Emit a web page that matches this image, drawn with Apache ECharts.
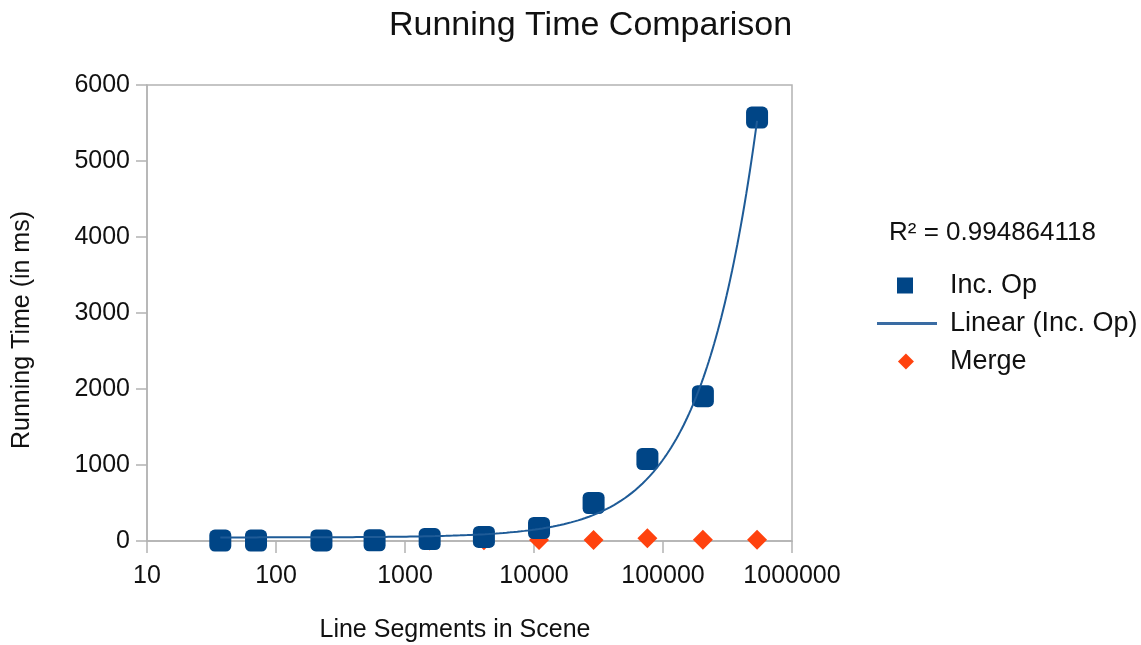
<!DOCTYPE html>
<html>
<head>
<meta charset="utf-8">
<script src="https://cdn.jsdelivr.net/npm/echarts@6/dist/echarts.min.js"></script>
<style>
html,body{margin:0;padding:0;background:#fff;}
#chart{width:1141px;height:645px;}
</style>
</head>
<body>
<div id="chart"></div>
<script>
// ---- data ----
const segments = [37, 70, 225, 581, 1553, 4090, 10940, 28970, 75700, 203800, 536000];
const incOp    = [5, 6, 8, 10, 26, 53, 171, 500, 1078, 1905, 5571];
const merge    = [3, 4, 5, 6, 8, 10, 12, 12, 35, 15, 18];
const xTicks   = [10, 100, 1000, 10000, 100000, 1000000];
const yTicks   = [0, 1000, 2000, 3000, 4000, 5000, 6000];
const r2Label  = 'R² = 0.994864118';

// ---- linear least-squares trend of Inc. Op (as in the reference) ----
function linearFit(xs, ys) {
  const n = xs.length;
  let sx = 0, sy = 0, sxx = 0, sxy = 0;
  for (let i = 0; i < n; i++) { sx += xs[i]; sy += ys[i]; sxx += xs[i]*xs[i]; sxy += xs[i]*ys[i]; }
  const slope = (n*sxy - sx*sy) / (n*sxx - sx*sx);
  return { slope, intercept: (sy - slope*sx) / n };
}
const fit = linearFit(segments, incOp);
const trend = [];
const lx0 = Math.log10(segments[0]), lx1 = Math.log10(segments[segments.length-1]);
for (let i = 0; i <= 300; i++) {
  const x = Math.pow(10, lx0 + (lx1 - lx0) * i / 300);
  trend.push([x, fit.slope * x + fit.intercept]);
}

const FONT = 'Liberation Sans';
const TXT = '#111111';
const AXIS = '#b3b3b3';
const BLUE = '#004586';
const ORANGE = '#ff420e';

const chart = echarts.init(document.getElementById('chart'), null, {renderer: 'canvas'});
chart.setOption({
  animation: false,
  backgroundColor: '#ffffff',
  textStyle: { fontFamily: FONT },
  title: {
    text: 'Running Time Comparison',
    left: 384, top: 4,
    textStyle: { fontFamily: FONT, fontSize: 34, fontWeight: 'normal', color: TXT }
  },
  grid: {
    left: 147, right: 1141 - 792, top: 85, bottom: 645 - 541,
    show: true, borderColor: AXIS, borderWidth: 1.5, containLabel: false,
    outerBoundsMode: 'none'
  },
  xAxis: {
    type: 'log', logBase: 10, min: xTicks[0], max: xTicks[xTicks.length-1],
    name: 'Line Segments in Scene', nameLocation: 'middle', nameGap: 77,
    nameTextStyle: { fontFamily: FONT, fontSize: 25, color: TXT, padding: [0, 29, 0, 0] },
    axisLine: { lineStyle: { color: AXIS, width: 1.5 } },
    axisTick: { show: true, length: 12, lineStyle: { color: AXIS, width: 1.5 } },
    minorTick: { show: false },
    splitLine: { show: false },
    axisLabel: {
      fontFamily: FONT, fontSize: 25, color: TXT, margin: 23,
      formatter: v => String(Math.round(v))
    }
  },
  yAxis: {
    type: 'value', min: yTicks[0], max: yTicks[yTicks.length-1], interval: 1000,
    name: 'Running Time (in ms)', nameLocation: 'middle', nameGap: 112,
    nameTextStyle: { fontFamily: FONT, fontSize: 25, color: TXT, padding: [0, 0, 0, -34] },
    axisLine: { show: true, lineStyle: { color: AXIS, width: 1.5 } },
    axisTick: { show: true, length: 11, lineStyle: { color: AXIS, width: 1.5 } },
    splitLine: { show: false },
    axisLabel: { fontFamily: FONT, fontSize: 25, color: TXT, margin: 17, formatter: v => String(v) }
  },
  legend: {
    orient: 'vertical', left: 877, top: 272, padding: 0,
    itemWidth: 68, itemHeight: 16, itemGap: 11,
    textStyle: { fontFamily: FONT, fontSize: 27, color: TXT },
    itemStyle: { borderWidth: 0 },
    selectedMode: false,
    data: [
      { name: 'Inc. Op', icon: 'path://M0,0 M12.5,0h10v10h-10z M42.5,10' },
      { name: 'Linear (Inc. Op)', icon: 'path://M0,0h60v3h-60z M68,0' },
      { name: 'Merge', icon: 'path://M0,0 M18.1,0L23.1,5L18.1,10L13.1,5z M42.5,10' }
    ]
  },
  graphic: [{
    type: 'text', left: 889, top: 220,
    style: { text: r2Label, fontFamily: FONT, fontSize: 26, fill: TXT }
  }],
  series: [
    {
      name: 'Merge', type: 'scatter', z: 2,
      symbol: 'diamond', symbolSize: [20, 20],
      itemStyle: { color: ORANGE, opacity: 1 },
      data: segments.map((x, i) => [x, merge[i]])
    },
    {
      name: 'Inc. Op', type: 'scatter', z: 3,
      symbol: 'roundRect', symbolSize: 22,
      itemStyle: { color: BLUE, opacity: 1 },
      data: segments.map((x, i) => [x, incOp[i]])
    },
    {
      name: 'Linear (Inc. Op)', type: 'line', z: 4,
      symbol: 'none', smooth: false,
      lineStyle: { color: '#1e5b97', width: 2 },
      itemStyle: { color: '#3a6ca3' },
      data: trend
    }
  ]
});
</script>
</body>
</html>
